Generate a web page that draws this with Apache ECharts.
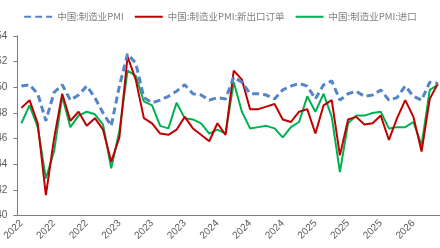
<!DOCTYPE html>
<html>
<head>
<meta charset="utf-8">
<style>
  html, body { margin: 0; padding: 0; background: #fff; }
  #chart { width: 440px; height: 248px; }
</style>
<script src="https://cdn.jsdelivr.net/npm/echarts@6/dist/echarts.min.js"></script>
</head>
<body>
<div id="chart"></div>
<script>
// 月份: 2022-01 ~ 2026-04
var months = [];
for (var y = 2022; y <= 2026; y++) {
    for (var m = 1; m <= 12; m++) {
        if (y === 2026 && m > 4) break;
        months.push(y + '-' + (m < 10 ? '0' + m : m));
    }
}

var seriesNames = ['中国:制造业PMI', '中国:制造业PMI:新出口订单', '中国:制造业PMI:进口'];

// 制造业PMI
var pmi = [
    50.1, 50.2, 49.5, 47.4, 49.6, 50.2, 49.0, 49.4, 50.1, 49.2, 48.0, 47.0,
    50.1, 52.6, 51.9, 49.2, 48.8, 49.0, 49.3, 49.7, 50.2, 49.5, 49.4, 49.0,
    49.2, 49.1, 50.8, 50.4, 49.5, 49.5, 49.4, 49.1, 49.8, 50.1, 50.3, 50.1,
    49.1, 50.2, 50.5, 49.0, 49.5, 49.7, 49.3, 49.4, 49.8, 49.0, 49.2, 50.1,
    49.3, 49.0, 50.4, 50.3
];
// 新出口订单
var exportOrders = [
    48.4, 49.0, 47.2, 41.6, 46.0, 49.5, 47.4, 48.1, 47.0, 47.6, 46.7, 44.2,
    46.1, 52.4, 50.6, 47.6, 47.2, 46.4, 46.3, 46.7, 47.7, 46.8, 46.3, 45.8,
    47.2, 46.3, 51.3, 50.6, 48.3, 48.3, 48.5, 48.7, 47.5, 47.3, 48.1, 48.3,
    46.4, 48.6, 49.0, 44.7, 47.5, 47.7, 47.1, 47.2, 47.8, 45.9, 47.6, 49.0,
    47.7, 45.0, 49.1, 50.3
];
// 进口
var imports = [
    47.2, 48.6, 46.9, 42.9, 45.0, 49.3, 46.9, 47.8, 48.1, 47.9, 47.1, 43.7,
    46.6, 51.3, 50.9, 48.9, 48.6, 47.0, 46.8, 48.8, 47.6, 47.5, 47.2, 46.4,
    46.7, 46.4, 50.4, 48.1, 46.8, 46.9, 47.0, 46.8, 46.1, 46.9, 47.3, 49.3,
    48.1, 49.5, 47.7, 43.4, 47.2, 47.8, 47.8, 48.0, 48.1, 46.8, 46.9, 46.9,
    47.3, 45.5, 49.8, 50.2
];

var yTicks = [40, 42, 44, 46, 48, 50, 52, 54];

(function () {
    var myChart = echarts.init(document.getElementById('chart'));
    var axisColor = '#7f7f7f';
    var textColor = '#595959';

    var option = {
        animation: false,
        color: ['#5585c8', '#c00000', '#00b050'],
        legend: {
            top: 7,
            left: 'center',
            itemWidth: 28,
            itemHeight: 10,
            itemGap: 10,
            // 图例只显示线，不显示圆点
            itemStyle: { opacity: 0 },
            textStyle: {
                color: '#808080',
                fontSize: 9.5,
                fontFamily: 'Noto Sans CJK SC'
            },
            data: seriesNames
        },
        grid: {
            left: 17.3,
            right: -2,
            top: 36,
            bottom: 32.3,
            containLabel: false,
            // 不让标签把绘图区挤小
            outerBoundsMode: 'none'
        },
        xAxis: {
            type: 'category',
            data: months,
            boundaryGap: true,
            axisLine: { lineStyle: { color: axisColor, width: 1 } },
            axisTick: { interval: 3, length: 4, lineStyle: { color: axisColor } },
            axisLabel: {
                interval: 3,
                rotate: 45,
                margin: 6,
                color: textColor,
                fontSize: 10,
                fontFamily: 'Liberation Sans',
                formatter: function (v) { return v.slice(0, 4); }
            },
            splitLine: { show: false }
        },
        yAxis: {
            type: 'value',
            min: yTicks[0],
            max: yTicks[yTicks.length - 1],
            interval: 2,
            axisLine: { show: true, lineStyle: { color: axisColor, width: 1 } },
            axisTick: { show: true, length: 4, lineStyle: { color: axisColor } },
            axisLabel: {
                margin: 10,
                color: textColor,
                fontSize: 10,
                fontFamily: 'Liberation Sans'
            },
            splitLine: { show: false }
        },
        series: [
            {
                name: seriesNames[0],
                type: 'line',
                data: pmi,
                symbol: 'none',
                lineStyle: { width: 3, type: [7, 4] },
                z: 3
            },
            {
                name: seriesNames[1],
                type: 'line',
                data: exportOrders,
                symbol: 'none',
                lineStyle: { width: 2 },
                z: 2
            },
            {
                name: seriesNames[2],
                type: 'line',
                data: imports,
                symbol: 'none',
                lineStyle: { width: 2 },
                z: 1
            }
        ]
    };
    myChart.setOption(option);
})();
</script>
</body>
</html>
